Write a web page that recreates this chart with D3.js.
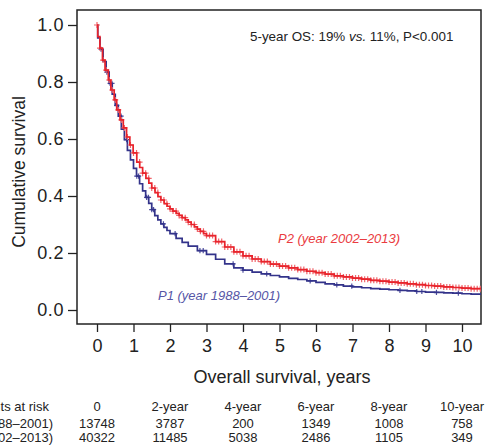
<!DOCTYPE html>
<html>
<head>
<meta charset="utf-8">
<script src="https://cdn.jsdelivr.net/npm/d3@7"></script>
<style>
  body { margin: 0; background: #fff; }
  svg { font-family: "Liberation Sans", Arial, Helvetica, sans-serif; }
</style>
</head>
<body>
<div id="chart"></div>
<script>
// Kaplan-Meier steps: [years, cumulative survival]
const p1Curve = [
  [0, 1.0], [0.02, 0.955], [0.083, 0.915], [0.167, 0.872], [0.25, 0.835], [0.333, 0.795],
  [0.417, 0.757], [0.5, 0.718], [0.583, 0.680], [0.667, 0.635], [0.75, 0.598], [0.833, 0.560],
  [0.917, 0.527], [1.0, 0.497], [1.083, 0.470], [1.167, 0.443], [1.25, 0.418], [1.333, 0.395],
  [1.417, 0.374], [1.5, 0.352], [1.583, 0.331], [1.667, 0.316], [1.75, 0.302], [1.833, 0.290],
  [1.917, 0.279], [2.0, 0.268], [2.167, 0.251], [2.333, 0.237], [2.5, 0.224], [2.75, 0.208],
  [3.0, 0.195], [3.25, 0.178], [3.5, 0.162], [3.75, 0.148], [4.0, 0.140], [4.25, 0.133],
  [4.5, 0.127], [4.75, 0.121], [5.0, 0.116], [5.25, 0.111], [5.5, 0.107], [5.75, 0.102],
  [6.0, 0.097], [6.25, 0.092], [6.5, 0.088], [6.75, 0.084], [7.0, 0.081], [7.25, 0.078],
  [7.5, 0.075], [7.75, 0.073], [8.0, 0.071], [8.25, 0.069], [8.5, 0.067], [8.75, 0.065],
  [9.0, 0.063], [9.25, 0.062], [9.5, 0.060], [9.75, 0.059], [10.0, 0.057], [10.25, 0.056],
  [10.6, 0.055]
];
const p2Curve = [
  [0, 1.0], [0.02, 0.959], [0.08, 0.919], [0.15, 0.877], [0.22, 0.842], [0.31, 0.807],
  [0.38, 0.772], [0.47, 0.737], [0.54, 0.702], [0.63, 0.667], [0.72, 0.639], [0.81, 0.607],
  [0.90, 0.579], [0.99, 0.551], [1.09, 0.519], [1.17, 0.500], [1.25, 0.480], [1.34, 0.462],
  [1.42, 0.445], [1.50, 0.428], [1.59, 0.412], [1.67, 0.398], [1.75, 0.386], [1.84, 0.373],
  [1.92, 0.364], [2.00, 0.355], [2.08, 0.347], [2.17, 0.339], [2.25, 0.332], [2.33, 0.324],
  [2.42, 0.316], [2.50, 0.308], [2.58, 0.300], [2.67, 0.292], [2.75, 0.284], [2.83, 0.276],
  [2.92, 0.268], [3.00, 0.261], [3.25, 0.240], [3.5, 0.221], [3.75, 0.204], [4.0, 0.190],
  [4.25, 0.179], [4.5, 0.170], [4.75, 0.161], [5.0, 0.154], [5.25, 0.148], [5.5, 0.142],
  [5.75, 0.136], [6.0, 0.131], [6.25, 0.126], [6.5, 0.120], [6.75, 0.116], [7.0, 0.112],
  [7.25, 0.108], [7.5, 0.104], [7.75, 0.101], [8.0, 0.098], [8.25, 0.095], [8.5, 0.092],
  [8.75, 0.089], [9.0, 0.086], [9.25, 0.084], [9.5, 0.081], [9.75, 0.079], [10.0, 0.077],
  [10.25, 0.075], [10.6, 0.073]
];

// censoring marks
const p1Censor = [0.11, 0.27, 0.36, 0.41, 0.54, 0.66, 0.81, 1.09, 1.14, 1.36, 1.41, 1.5, 1.55,
  1.82, 2.14, 2.82, 2.91, 3.73, 4.0, 4.65, 5.84, 6.57, 6.98, 8.30, 8.76, 8.9, 9.3, 9.9];
const p2CensorMonths = [0, 1, 2, 3, 4, 5, 6, 7, 8, 9, 10, 11, 12, 13, 14, 15, 16, 17, 18, 19, 20,
  21, 22, 23, 24, 25, 26, 27, 28, 29, 30, 31, 32, 33, 34, 35, 36, 37, 38, 39, 40, 41, 42, 43, 44,
  45, 46, 47, 48, 49, 50, 51, 52, 53, 54, 55, 56, 57, 58, 59, 60, 61, 62, 63, 64, 65, 66, 67, 68,
  69, 70, 71, 72, 73, 74, 75, 76, 77, 78, 79, 80, 81, 82, 83, 84, 85, 86, 87, 88, 89, 90, 91, 92,
  93, 94, 95, 96, 97, 98, 99, 100, 101, 102, 103, 104, 105, 106, 107, 108, 109, 110, 111, 112,
  113, 114, 115, 116, 117, 118, 119, 120, 121, 122, 123, 124, 125, 126];

const xTicks = [0, 1, 2, 3, 4, 5, 6, 7, 8, 9, 10];
const yTicks = [0, 0.2, 0.4, 0.6, 0.8, 1.0];

// numbers at risk table
const riskColumns = ['0', '2-year', '4-year', '6-year', '8-year', '10-year'];
const riskYears = [0, 2, 4, 6, 8, 10];
const riskP1 = [13748, 3787, 200, 1349, 1008, 758];
const riskP2 = [40322, 11485, 5038, 2486, 1105, 349];

const width = 485, height = 447;
const box = { left: 77, top: 10, right: 481, bottom: 324 };
const red = '#e8232b', blue = '#33338a';

const svg = d3.select('#chart').append('svg')
  .attr('width', width)
  .attr('height', height);

const x = d3.scaleLinear().domain([0, 10]).range([97, 462]);
const y = d3.scaleLinear().domain([0, 1]).range([310, 25]);

svg.append('clipPath').attr('id', 'plotclip')
  .append('rect')
  .attr('x', box.left).attr('y', box.top)
  .attr('width', box.right - box.left).attr('height', box.bottom - box.top);

// axes
const yAxis = svg.append('g')
  .attr('transform', `translate(${box.left},0)`)
  .call(d3.axisLeft(y).tickValues(yTicks).tickFormat(d3.format('.1f')).tickSize(9).tickPadding(4));
const xAxis = svg.append('g')
  .attr('transform', `translate(0,${box.bottom})`)
  .call(d3.axisBottom(x).tickValues(xTicks).tickSize(8).tickPadding(7));

[xAxis, yAxis].forEach(a => {
  a.select('.domain').remove();
  a.selectAll('line').attr('stroke', '#222').attr('stroke-width', 1.3);
  a.selectAll('text').attr('fill', '#222').style('font-size', '18px')
    .style('font-family', '"Liberation Sans", Arial, sans-serif');
});
yAxis.selectAll('text').style('letter-spacing', '0.6px');

svg.append('rect')
  .attr('x', box.left).attr('y', box.top)
  .attr('width', box.right - box.left).attr('height', box.bottom - box.top)
  .attr('fill', 'none').attr('stroke', '#222').attr('stroke-width', 1.5);

// axis titles
svg.append('text')
  .attr('x', 282).attr('y', 383)
  .attr('text-anchor', 'middle').attr('fill', '#222').style('font-size', '18px')
  .text('Overall survival, years');

svg.append('text')
  .attr('transform', 'translate(25,172) rotate(-90)')
  .attr('text-anchor', 'middle').attr('fill', '#222').style('font-size', '17.5px')
  .text('Cumulative survival');

// curves
const plot = svg.append('g').attr('clip-path', 'url(#plotclip)');
const line = d3.line().x(d => x(d[0])).y(d => y(d[1])).curve(d3.curveStepAfter);
const bisect = d3.bisector(d => d[0]).right;
const survAt = (curve, t) => curve[Math.max(0, bisect(curve, t) - 1)][1];

const series = [
  { curve: p1Curve, censor: p1Censor, color: blue, mark: '#4e4e9e', r: 2.6 },
  { curve: p2Curve, censor: p2CensorMonths.map(m => m / 12), color: red, mark: '#f0646a', r: 3 }
];

series.forEach(s => {
  plot.selectAll(null)
    .data(s.censor)
    .enter().append('path')
    .attr('transform', t => `translate(${x(t)},${y(survAt(s.curve, t))})`)
    .attr('d', `M${-s.r},0h${2 * s.r}M0,${-s.r}v${2 * s.r}`)
    .attr('stroke', s.mark)
    .attr('stroke-width', 1.2);

  plot.append('path')
    .datum(s.curve)
    .attr('d', line)
    .attr('fill', 'none')
    .attr('stroke', s.color)
    .attr('stroke-width', 1.7);
});

// annotations
const note = svg.append('text')
  .attr('x', 250).attr('y', 41)
  .attr('fill', '#222').style('font-size', '13.4px');
note.append('tspan').text('5-year OS: 19% ');
note.append('tspan').style('font-style', 'italic').text('vs.');
note.append('tspan').text(' 11%, P<0.001');

svg.append('text')
  .attr('x', 278).attr('y', 243)
  .attr('fill', '#ea3b40').style('font-size', '13px').style('font-style', 'italic')
  .text('P2 (year 2002–2013)');

svg.append('text')
  .attr('x', 158).attr('y', 300)
  .attr('fill', '#5656a6').style('font-size', '13px').style('font-style', 'italic')
  .text('P1 (year 1988–2001)');

// numbers at risk
const table = svg.append('g').attr('fill', '#222').style('font-size', '13px');
table.append('text').attr('x', 49).attr('y', 411).attr('text-anchor', 'end').text('Patients at risk');
table.append('text').attr('x', 53).attr('y', 428).attr('text-anchor', 'end').text('P1 (year 1988–2001)');
table.append('text').attr('x', 53).attr('y', 442).attr('text-anchor', 'end').text('P2 (year 2002–2013)');

const rows = [{ vals: riskColumns, yPos: 411 }, { vals: riskP1, yPos: 428 }, { vals: riskP2, yPos: 442 }];
rows.forEach(r => {
  table.selectAll(null)
    .data(r.vals)
    .enter().append('text')
    .attr('x', (d, i) => x(riskYears[i]))
    .attr('y', r.yPos)
    .attr('text-anchor', 'middle')
    .text(d => d);
});
</script>
</body>
</html>
